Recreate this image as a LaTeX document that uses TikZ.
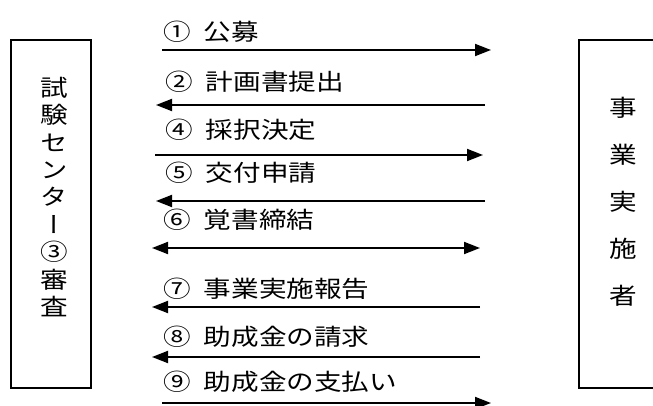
\documentclass[tikz,border=0pt]{standalone}
\usepackage{fontspec}
\newfontfamily\jp[FakeStretch=1.2]{Noto Sans CJK JP}
\newfontfamily\jpv[FakeStretch=1.2,RawFeature=+vert]{Noto Sans CJK JP}
\usetikzlibrary{arrows.meta}
\newcommand{\gap}{\hspace{13pt}}

\begin{document}
\begin{tikzpicture}[x=1pt,y=-1pt,
  party/.style={draw,line width=1.7pt,inner sep=0pt,minimum height=348pt},
  flow/.style={line width=1.8pt,-{Triangle[length=16pt,width=12pt]}},
  twoway/.style={line width=1.8pt,{Triangle[length=16pt,width=12pt]}-{Triangle[length=16pt,width=12pt]}},
  msg/.style={anchor=west,inner sep=0pt,font=\jp\fontsize{23pt}{27pt}\selectfont}]
  \useasboundingbox (0,0) rectangle (653,406);
  \clip (0,0) rectangle (653,406);
  % the two parties
  \node[party,minimum width=80pt] (center) at (51,214) {};
  \node[party,minimum width=120pt] (operator) at (639,214) {};
  \node[align=center,inner sep=0pt,font=\jpv\fontsize{23pt}{27.4pt}\selectfont] (centertxt) at (54,197)
    {試\\験\\セ\\ン\\タ\\ー\\③\\審\\査};
  \node[align=center,inner sep=0pt,font=\jp\fontsize{23pt}{47pt}\selectfont] (operatortxt) at (623,202)
    {事\\業\\実\\施\\者};
  % messages between them
  \node[msg] (m1) at (163,32) {①\gap 公募};
  \coordinate (m1a) at (162,50); \coordinate (m1b) at (491,50);
  \draw[flow] (m1a) -- (m1b);
  \node[msg] (m2) at (165,82) {②\gap 計画書提出};
  \coordinate (m2a) at (485,105); \coordinate (m2b) at (156,105);
  \draw[flow] (m2a) -- (m2b);
  \node[msg] (m4) at (165,130) {④\gap 採択決定};
  \coordinate (m4a) at (155,155); \coordinate (m4b) at (483,155);
  \draw[flow] (m4a) -- (m4b);
  \node[msg] (m5) at (165,173) {⑤\gap 交付申請};
  \coordinate (m5a) at (485,201); \coordinate (m5b) at (156,201);
  \draw[flow] (m5a) -- (m5b);
  \node[msg] (m6) at (163,220) {⑥\gap 覚書締結};
  \coordinate (m6a) at (152,248); \coordinate (m6b) at (480,248);
  \draw[twoway] (m6a) -- (m6b);
  \node[msg] (m7) at (163,289) {⑦\gap 事業実施報告};
  \coordinate (m7a) at (480,307); \coordinate (m7b) at (152,307);
  \draw[flow] (m7a) -- (m7b);
  \node[msg] (m8) at (163,337) {⑧\gap 助成金の請求};
  \coordinate (m8a) at (480,357); \coordinate (m8b) at (152,357);
  \draw[flow] (m8a) -- (m8b);
  \node[msg] (m9) at (163,382) {⑨\gap 助成金の支払い};
  \coordinate (m9a) at (162,403); \coordinate (m9b) at (491,403);
  \draw[flow] (m9a) -- (m9b);
\end{tikzpicture}
\end{document}
